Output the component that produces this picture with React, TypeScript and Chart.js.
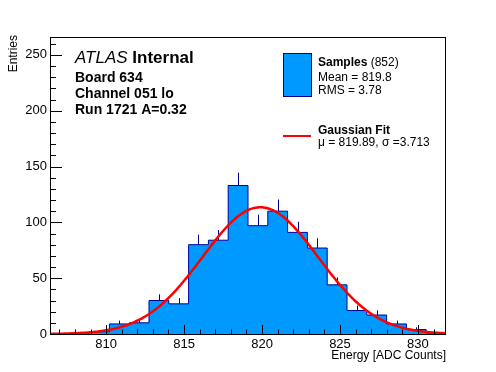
import React, { useEffect, useRef } from 'react';
import { Chart, registerables } from 'chart.js';

Chart.register(...registerables);

// ---- data ----
const X_MIN = 806.4;
const X_MAX = 831.8;
const BIN_WIDTH = 1.27;
const BIN_COUNTS = [0, 1, 2, 9, 10, 30, 27, 80, 84, 133, 97, 110, 91, 77, 44, 21, 17, 9, 4, 1];
const Y_MAX = 266;
const X_TICK_STEP = 5;
const Y_TICK_STEP = 50;
const X_MINOR_STEP = 1;
const Y_MINOR_STEP = 10;
const FIT_MEAN = 819.89;
const FIT_SIGMA = 3.713;
const FIT_AMPLITUDE = 113.5;
const FIT_STEP = 0.1;
const HEADER_LINES = ['Board 634', 'Channel 051 lo', 'Run 1721 A=0.32'];
const SAMPLE_LINES = ['Mean = 819.8', 'RMS = 3.78'];
const FIT_LINE = 'μ = 819.89, σ =3.713';

const FONT = "'Liberation Sans', Arial, Helvetica, sans-serif";
const FILL = '#0099ff';
const EDGE = '#000099';
const RED = '#ff0000';

// histogram outline points: left edge, then the right edge of each bin with its count
const histPoints = [
  { x: X_MIN, y: 0 },
  ...BIN_COUNTS.map((c, k) => ({ x: X_MIN + (k + 1) * BIN_WIDTH, y: c })),
  { x: X_MIN + BIN_COUNTS.length * BIN_WIDTH, y: 0 },
];

const fitPoints: { x: number; y: number }[] = [];
for (let v = X_MIN; v <= X_MAX + 1e-9; v += FIT_STEP) {
  const z = (v - FIT_MEAN) / FIT_SIGMA;
  fitPoints.push({ x: v, y: FIT_AMPLITUDE * Math.exp(-0.5 * z * z) });
}

const decorPlugin = {
  id: 'decor',
  afterDatasetDraw(chart: any, args: any) {
    if (args.index !== 1) return;
    const { ctx, chartArea: a, scales } = chart;
    const x = scales.x;
    const y = scales.y;
    ctx.save();
    ctx.beginPath();
    ctx.rect(a.left, a.top, a.right - a.left, a.bottom - a.top);
    ctx.clip();
    ctx.strokeStyle = EDGE;
    ctx.lineWidth = 1;
    BIN_COUNTS.forEach((c, k) => {
      if (c <= 0) return;
      const xc = Math.round(x.getPixelForValue(X_MIN + (k + 0.5) * BIN_WIDTH)) + 0.5;
      const y1 = y.getPixelForValue(c);
      const y2 = y.getPixelForValue(c + Math.sqrt(c));
      ctx.beginPath();
      ctx.moveTo(xc, y1);
      ctx.lineTo(xc, y2);
      ctx.stroke();
    });
    ctx.restore();
  },
  afterDraw(chart: any) {
    const { ctx, chartArea: a, scales } = chart;
    const x = scales.x;
    const y = scales.y;
    ctx.save();
    // frame
    ctx.strokeStyle = '#000';
    ctx.lineWidth = 1;
    ctx.strokeRect(a.left + 0.5, a.top + 0.5, a.right - a.left - 1, a.bottom - a.top);
    // y ticks (inward)
    for (let v = 0; v <= Y_MAX; v += Y_MINOR_STEP) {
      const len = v % Y_TICK_STEP === 0 ? 12 : 6;
      const py = Math.round(y.getPixelForValue(v)) + 0.5;
      ctx.beginPath();
      ctx.moveTo(a.left, py);
      ctx.lineTo(a.left + len, py);
      ctx.stroke();
    }
    // x ticks (inward)
    for (let v = Math.ceil(X_MIN); v <= X_MAX; v += X_MINOR_STEP) {
      const len = v % X_TICK_STEP === 0 ? 9 : 4.5;
      const px = Math.round(x.getPixelForValue(v)) + 0.5;
      ctx.beginPath();
      ctx.moveTo(px, a.bottom);
      ctx.lineTo(px, a.bottom - len);
      ctx.stroke();
    }

    ctx.fillStyle = '#000';
    ctx.textBaseline = 'alphabetic';
    ctx.textAlign = 'left';
    // axis titles
    ctx.font = `12px ${FONT}`;
    ctx.textAlign = 'right';
    ctx.fillText('Energy [ADC Counts]', a.right, 359);
    ctx.save();
    ctx.translate(16.5, 35);
    ctx.rotate(-Math.PI / 2);
    ctx.fillText('Entries', 0, 0);
    ctx.restore();
    ctx.textAlign = 'left';

    // ATLAS header
    ctx.font = `italic 17px ${FONT}`;
    ctx.fillText('ATLAS', 75, 62.5);
    const w = ctx.measureText('ATLAS ').width;
    ctx.font = `bold 17px ${FONT}`;
    ctx.fillText('Internal', 75 + w, 62.5);
    ctx.font = `bold 14px ${FONT}`;
    HEADER_LINES.forEach((t, i) => ctx.fillText(t, 75, 81.5 + i * 16));

    // legend
    ctx.fillStyle = FILL;
    ctx.fillRect(283.5, 53.5, 28, 43);
    ctx.strokeStyle = EDGE;
    ctx.strokeRect(283.5, 53.5, 28, 43);
    ctx.strokeStyle = RED;
    ctx.lineWidth = 2;
    ctx.beginPath();
    ctx.moveTo(283, 136);
    ctx.lineTo(311, 136);
    ctx.stroke();

    ctx.fillStyle = '#000';
    ctx.font = `bold 12px ${FONT}`;
    ctx.fillText('Samples', 318, 66);
    const sw = ctx.measureText('Samples').width;
    ctx.font = `12px ${FONT}`;
    ctx.fillText(' (852)', 318 + sw, 66);
    SAMPLE_LINES.forEach((t, i) => ctx.fillText(t, 318, 80.5 + i * 13.5));
    ctx.font = `bold 12px ${FONT}`;
    ctx.fillText('Gaussian Fit', 318, 133.5);
    ctx.font = `12px ${FONT}`;
    ctx.fillText(FIT_LINE, 318, 146);
    ctx.restore();
  },
};

export default function App() {
  const ref = useRef<HTMLCanvasElement | null>(null);
  useEffect(() => {
    if (!ref.current) return;
    const chart = new Chart(ref.current, {
      type: 'line',
      data: {
        datasets: [
          {
            label: 'Gaussian Fit',
            data: fitPoints,
            borderColor: RED,
            borderWidth: 2.5,
            pointRadius: 0,
            fill: false,
            tension: 0,
            order: 0,
          },
          {
            label: 'Samples',
            data: histPoints,
            stepped: 'after',
            borderColor: EDGE,
            borderWidth: 1,
            backgroundColor: FILL,
            fill: 'origin',
            pointRadius: 0,
            order: 1,
          },
        ],
      },
      options: {
        animation: false,
        responsive: false,
        events: [],
        layout: { padding: { top: 37, right: 50, left: 0, bottom: 0 } },
        plugins: { legend: { display: false }, tooltip: { enabled: false } },
        scales: {
          x: {
            type: 'linear',
            min: X_MIN,
            max: X_MAX,
            grid: { display: false, drawTicks: false },
            border: { display: false },
            ticks: {
              stepSize: X_TICK_STEP,
              includeBounds: false,
              autoSkip: false,
              maxRotation: 0,
              padding: 3,
              color: '#000',
              font: { family: FONT, size: 13 },
              callback: (v: any) => String(v),
            },
            afterFit: (s: any) => { s.height = 38; },
          },
          y: {
            type: 'linear',
            min: 0,
            max: Y_MAX,
            grid: { display: false, drawTicks: false },
            border: { display: false },
            ticks: {
              stepSize: Y_TICK_STEP,
              includeBounds: false,
              autoSkip: false,
              padding: 3,
              color: '#000',
              font: { family: FONT, size: 13 },
              callback: (v: any) => String(v),
            },
            afterFit: (s: any) => { s.width = 50; },
          },
        },
      },
      plugins: [decorPlugin],
    } as any);
    return () => chart.destroy();
  }, []);
  return (
    <div style={{ position: 'absolute', left: 0, top: 0, width: 496, height: 372, background: '#fff' }}>
      <canvas ref={ref} width={496} height={372} style={{ display: 'block' }} />
    </div>
  );
}
